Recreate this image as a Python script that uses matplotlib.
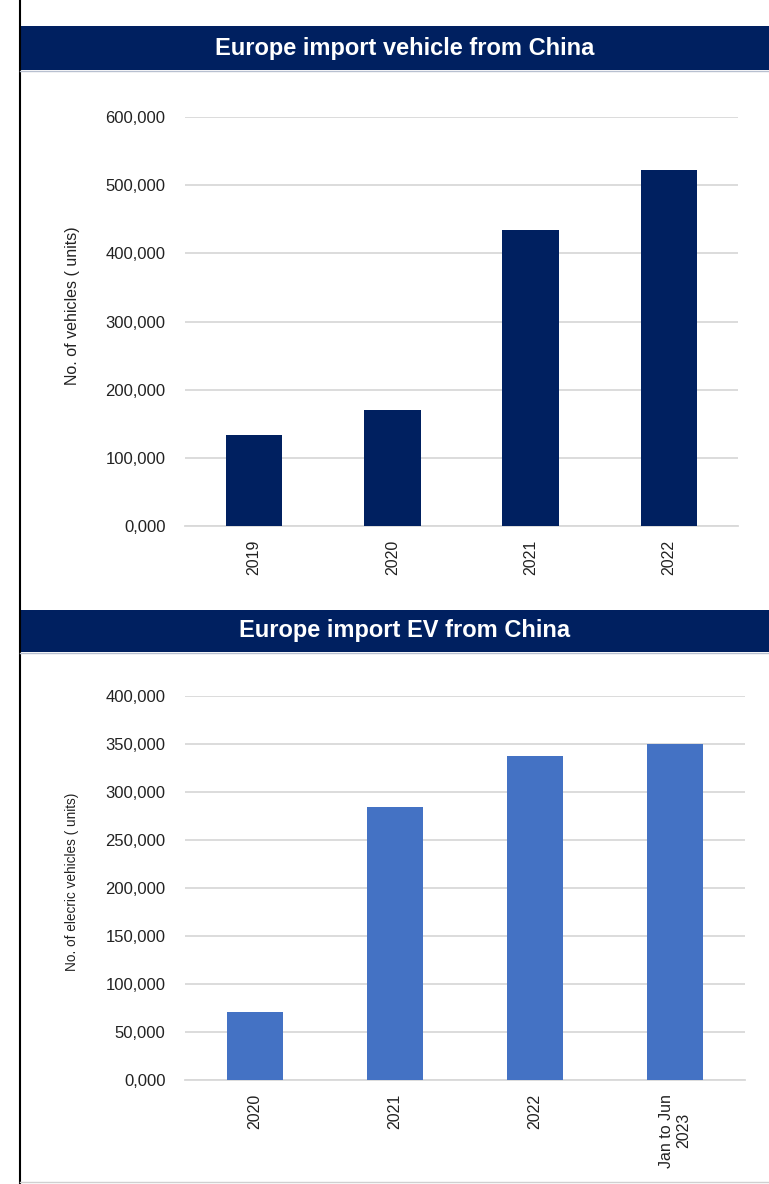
import matplotlib
matplotlib.use("Agg")
import matplotlib.pyplot as plt
from matplotlib import font_manager
from matplotlib.patches import Rectangle
from matplotlib.lines import Line2D
from matplotlib.ticker import FuncFormatter

plt.rcParams["font.family"] = ["Liberation Sans", "DejaVu Sans"]

# top chart: all vehicles
veh_years = ["2019", "2020", "2021", "2022"]
veh_units = [133000, 170000, 434000, 522000]
veh_ticks = [0, 100000, 200000, 300000, 400000, 500000, 600000]

# bottom chart: electric vehicles
ev_years = ["2020", "2021", "2022", "Jan to Jun\n2023"]
ev_units = [71000, 284000, 337000, 350000]
ev_ticks = [0, 50000, 100000, 150000, 200000, 250000, 300000, 350000, 400000]

NAVY = "#002060"
BLUE = "#4472C4"
GRID = "#D9D9D9"
W, H = 769, 1184

# the EV y label is set in a condensed face in the original
names = {f.name for f in font_manager.fontManager.ttflist}
if "Liberation Sans Narrow" in names:
    EV_LABEL_FONT = (["Liberation Sans Narrow", "Liberation Sans"], 11.5)
else:
    EV_LABEL_FONT = (["Liberation Sans"], 9.8)


def fx(px):
    return px / W


def fy(py):
    return 1 - py / H


def fmt_units(x, _):
    if x == 0:
        return "0,000"
    return "{:,.0f}".format(x)


def banner(fig, top, bottom, text):
    fig.patches.append(Rectangle((fx(20), fy(bottom)), 1 - fx(20), fy(top) - fy(bottom),
                                 transform=fig.transFigure, facecolor=NAVY,
                                 edgecolor="none", zorder=1))
    fig.lines.append(Line2D([fx(20), 1], [fy(bottom + 1)] * 2, transform=fig.transFigure,
                            color="#B8C0D0", lw=1))
    fig.text(fx(405), fy((top + bottom) / 2), text, color="white", fontsize=17,
             fontweight="bold", ha="center", va="center", zorder=2)


def bar_chart(fig, rect, cats, vals, ticks, color, width, ylabel, label_xy, label_font):
    ax = fig.add_axes(rect)
    x = list(range(len(cats)))
    ax.bar(x, vals, width=width, color=color, zorder=3)
    ax.set_xlim(-0.5, len(cats) - 0.5)
    ax.set_ylim(ticks[0], ticks[-1])
    ax.set_yticks(ticks)
    ax.yaxis.set_major_formatter(FuncFormatter(fmt_units))
    ax.set_xticks(x)
    ax.set_xticklabels(cats, rotation=90, fontsize=11.5, linespacing=1.15)
    ax.tick_params(axis="y", length=0, pad=14, labelsize=12, labelcolor="#222222")
    ax.tick_params(axis="x", length=0, pad=10, labelcolor="#222222")
    ax.grid(axis="y", color=GRID, lw=1.3, zorder=0)
    ax.set_axisbelow(True)
    for s in ["top", "right", "left"]:
        ax.spines[s].set_visible(False)
    ax.spines["bottom"].set_color(GRID)
    ax.spines["bottom"].set_linewidth(1.3)
    fig.text(fx(label_xy[0]), fy(label_xy[1]), ylabel, rotation=90,
             family=label_font[0], fontsize=label_font[1],
             ha="center", va="center", color="#222222")
    return ax


fig = plt.figure(figsize=(W / 100, H / 100), dpi=100)

# left frame line and light panel borders
fig.lines.append(Line2D([fx(20), fx(20)], [0, 1], transform=fig.transFigure,
                        color="black", lw=1.5))
fig.lines.append(Line2D([fx(20), 1], [fy(1182)] * 2, transform=fig.transFigure,
                        color="#D0D0D0", lw=1))

banner(fig, 26, 70, "Europe import vehicle from China")
banner(fig, 610, 652, "Europe import EV from China")

bar_chart(fig, [fx(185), fy(526), fx(738) - fx(185), fy(117) - fy(526)],
          veh_years, veh_units, veh_ticks, NAVY, 0.41,
          "No. of vehicles ( units)", (72, 306), (["Liberation Sans"], 11.5))

bar_chart(fig, [fx(185), fy(1080), fx(745) - fx(185), fy(696) - fy(1080)],
          ev_years, ev_units, ev_ticks, BLUE, 0.40,
          "No. of elecric vehicles ( units)", (72, 882), EV_LABEL_FONT)

fig.savefig("out.png", dpi=100)
